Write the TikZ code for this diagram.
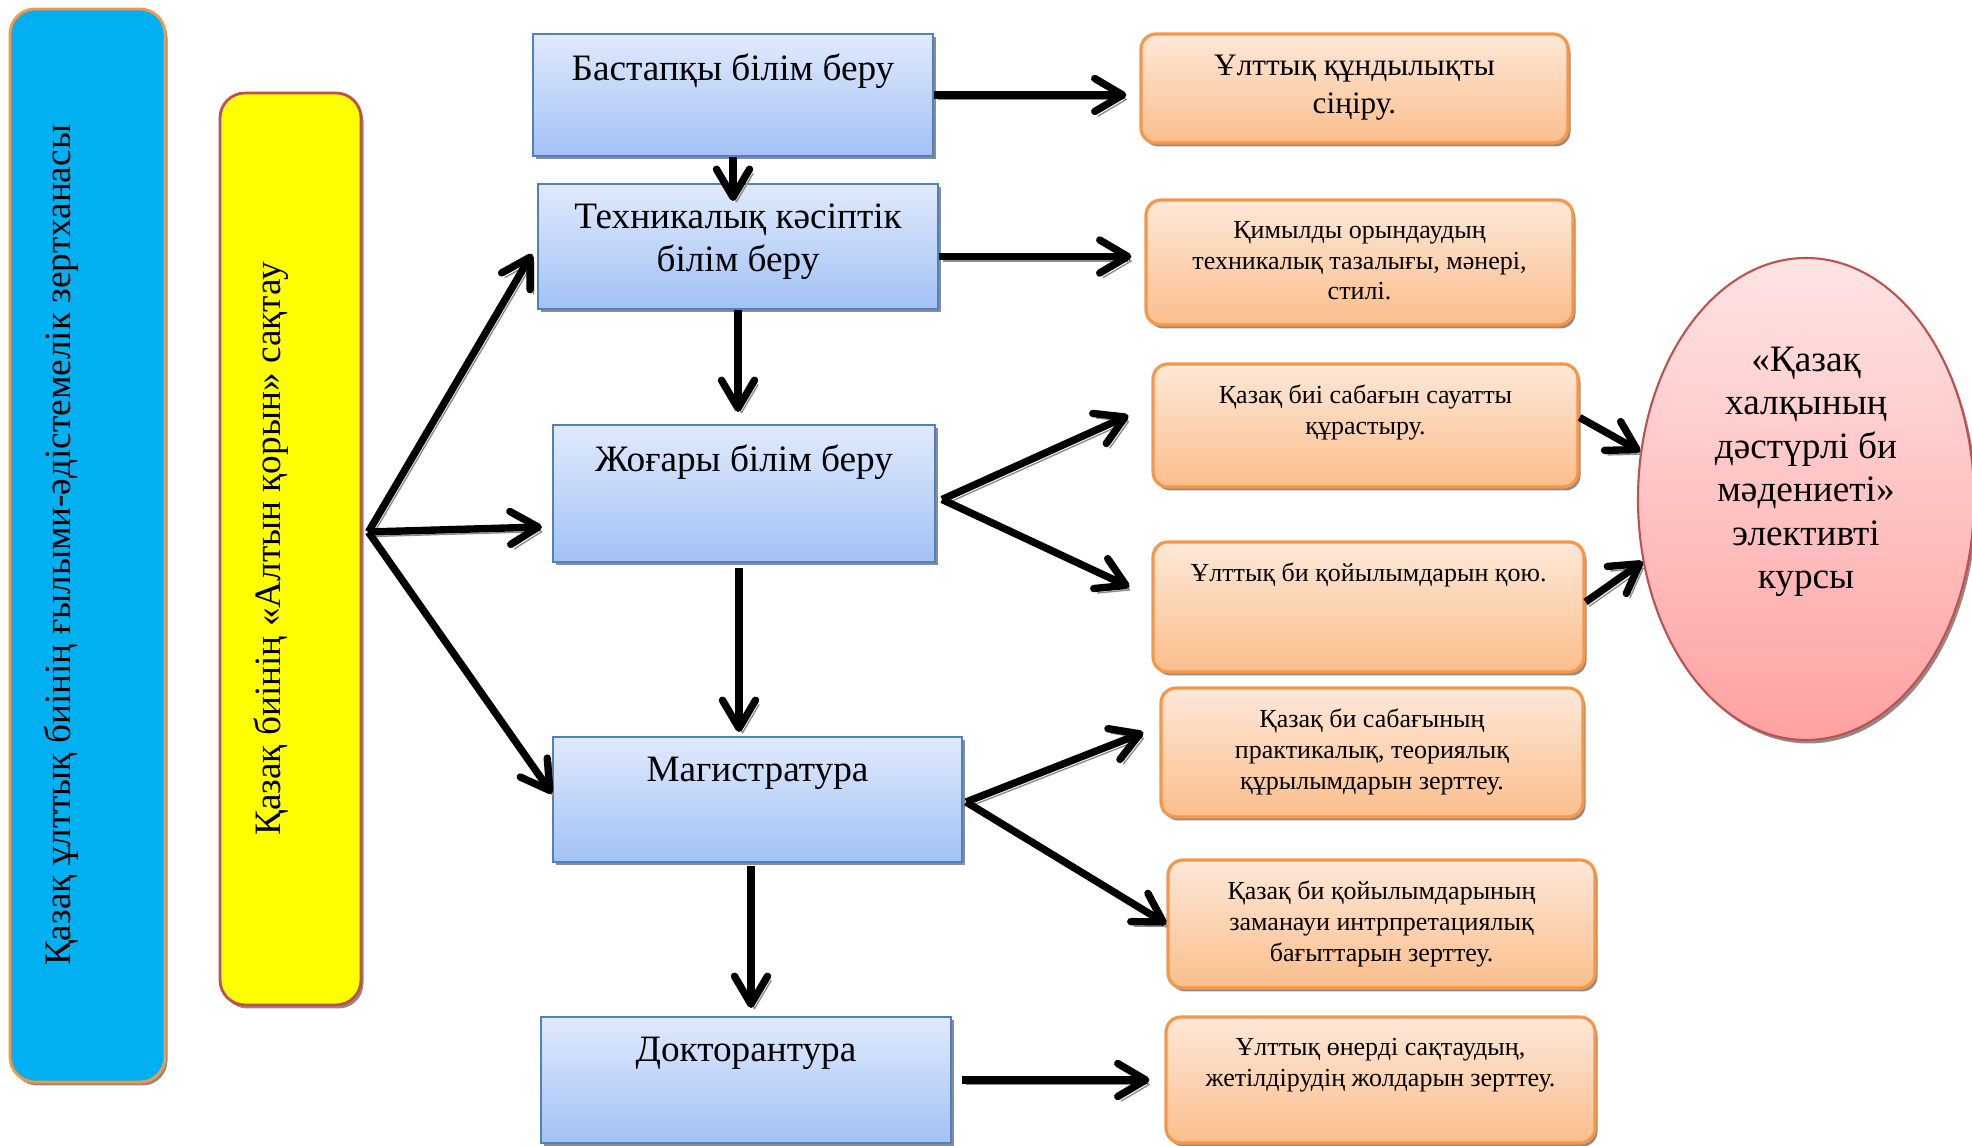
\documentclass[tikz,border=0pt]{standalone}
\usepackage{fontspec}
\setmainfont{Liberation Serif}
\usetikzlibrary{arrows.meta,shadows,shapes.geometric}

\definecolor{bordeazul}{RGB}{79,129,189}
\definecolor{azularriba}{RGB}{224,234,253}
\definecolor{azulabajo}{RGB}{163,193,245}
\definecolor{bordenaranja}{RGB}{247,150,70}
\definecolor{naranjaarriba}{RGB}{253,232,216}
\definecolor{naranjaabajo}{RGB}{251,190,140}
\definecolor{rosaarriba}{RGB}{255,228,228}
\definecolor{rosaabajo}{RGB}{255,162,162}
\definecolor{bordeojo}{RGB}{192,80,77}
\definecolor{celeste}{RGB}{0,176,240}
\definecolor{amarillo}{RGB}{255,255,0}

\tikzset{
  caja/.style 2 args={minimum width=#1, minimum height=#2, inner sep=0pt},
  sombra/.style={drop shadow={shadow xshift=0.25mm, shadow yshift=-0.35mm, opacity=0.45, fill=black}},
  azul/.style={draw=bordeazul, line width=0.6pt, top color=azularriba, bottom color=azulabajo, sombra},
  naranja/.style={rounded corners=1.5mm, draw=bordenaranja, line width=0.9pt, top color=naranjaarriba, bottom color=naranjaabajo, sombra},
  txtazul/.style={anchor=north, yshift=-2mm, inner sep=0pt, align=center, font=\fontsize{10.6}{12.4}\selectfont},
  txtnar/.style={anchor=north, yshift=-2.2mm, inner sep=0pt, align=center, font=\fontsize{7.4}{8.8}\selectfont},
  txtlado/.style={xshift=3.5mm, rotate=90, anchor=north, inner sep=0pt, font=\fontsize{10.6}{12.4}\selectfont},
  flecha/.style={line width=2.1pt, -{Straight Barb[length=2.8mm,width=3.3mm,round]},
    preaction={draw=black!45, transform canvas={shift={(0.35mm,-0.45mm)}}}}
}

\begin{document}
\begin{tikzpicture}[x=0.1mm, y=-0.1mm]
\useasboundingbox (0,0) rectangle (1972,1146);

% Columnas laterales
\node[caja={15.5mm}{107.3mm}, rounded corners=2.5mm, draw=bordenaranja, line width=0.8pt, fill=celeste, sombra,
  label={[txtlado]west:Қазақ ұлттық биінің ғылыми-әдістемелік зертханасы}] (lab) at (87.5,545.5) {};
\node[caja={14.1mm}{91.2mm}, rounded corners=2.5mm, draw=bordeojo, line width=0.8pt, fill=amarillo, sombra,
  label={[txtlado]west:Қазақ биінің «Алтын қорын» сақтау}] (altyn) at (290.5,549) {};

% Cajas azules
\node[azul, caja={40mm}{12.2mm}, label={[txtazul]north:Бастапқы білім беру}] (B1) at (733,95) {};
\node[azul, caja={40mm}{12.5mm}, label={[txtazul]north:Техникалық кәсіптік\\білім беру}] (B2) at (738,246.5) {};
\node[azul, caja={38.2mm}{13.7mm}, label={[txtazul]north:Жоғары білім беру}] (B3) at (744,493.5) {};
\node[azul, caja={40.9mm}{12.5mm}, label={[txtazul]north:Магистратура}] (B4) at (757.5,799.5) {};
\node[azul, caja={41mm}{12.6mm}, label={[txtazul]north:Докторантура}] (B5) at (746,1080) {};

% Cajas naranjas
\node[naranja, caja={42.7mm}{10.9mm}, label={[txtnar, yshift=0.05mm, font=\fontsize{8.9}{10.8}\selectfont]north:Ұлттық құндылықты\\сіңіру.}] (N1) at (1354.5,88.5) {};
\node[naranja, caja={42.7mm}{12.5mm}, label={[txtnar]north:Қимылды орындаудың\\техникалық тазалығы, мәнері,\\стилі.}] (N2) at (1359.5,262.5) {};
\node[naranja, caja={42.5mm}{12.3mm}, label={[txtnar]north:Қазақ биі сабағын сауатты\\құрастыру.}] (N3) at (1365.5,425.5) {};
\node[naranja, caja={43.1mm}{13mm}, label={[txtnar]north:Ұлттық би қойылымдарын қою.}] (N4) at (1368.5,607) {};
\node[naranja, caja={42.2mm}{12.9mm}, label={[txtnar]north:Қазақ би сабағының\\практикалық, теориялық\\құрылымдарын зерттеу.}] (N5) at (1372,752.5) {};
\node[naranja, caja={42.7mm}{12.8mm}, label={[txtnar]north:Қазақ би қойылымдарының\\заманауи интрпретациялық\\бағыттарын зерттеу.}] (N6) at (1381.5,924) {};
\node[naranja, caja={42.9mm}{12.6mm}, label={[txtnar]north:Ұлттық өнерді сақтаудың,\\жетілдірудің жолдарын зерттеу.}] (N7) at (1380.5,1080) {};

% Elipse
\node[ellipse, caja={33.6mm}{48.2mm}, draw=bordeojo, line width=0.6pt, top color=rosaarriba, bottom color=rosaabajo, sombra,
  label={[txtazul, yshift=-6.9mm]north:«Қазақ\\халқының\\дәстүрлі би\\мәдениеті»\\элективті\\курсы}] (kurs) at (1806,499) {};

% Flechas
\draw[flecha, shorten >=1.3mm] (B1.east) -- (B1.east -| N1.west);
\draw[flecha] (B1.south) -- ([yshift=-1.8mm]B1.south |- B2.north);
\draw[flecha, shorten >=1.3mm] ([yshift=-1mm]B2.east) -- ([yshift=-1mm]B2.east -| N2.west);
\draw[flecha, shorten >=1.2mm] (B2.south) -- (B2.south |- B3.north);
\draw[flecha] ([xshift=0.6mm,yshift=-0.6mm]B3.east) -- ([xshift=-2.3mm,yshift=1mm]N3.west);
\draw[flecha] ([xshift=0.6mm,yshift=-0.6mm]B3.east) -- ([xshift=-2.2mm,yshift=2mm]N4.west);
\draw[flecha, shorten <=0.5mm, shorten >=0.4mm] ([xshift=-0.5mm]B3.south) -- ([xshift=-0.5mm]B3.south |- B4.north);
\draw[flecha] ([xshift=0.3mm,yshift=-0.25mm]B4.east) -- ([xshift=-1.6mm,yshift=2mm]N5.west);
\draw[flecha] ([xshift=0.3mm,yshift=-0.25mm]B4.east) -- (N6.west);
\draw[flecha, shorten <=0.3mm, shorten >=0.8mm] ([xshift=-0.65mm]B4.south) -- ([xshift=-0.65mm]B4.south |- B5.north);
\draw[flecha, shorten <=1mm, shorten >=1.5mm] (B5.east) -- (B5.east -| N7.west);
\coordinate (Y0) at ([xshift=0.6mm,yshift=1.7mm]altyn.east);
\draw[flecha] (Y0) -- ([xshift=-0.5mm,yshift=-0.75mm]B2.west);
\draw[flecha] (Y0) -- ([xshift=-1mm,yshift=-3.35mm]B3.west);
\draw[flecha] (Y0) -- ([yshift=0.6mm]B4.west);
\draw[flecha] ([yshift=0.8mm]N3.east) -- (kurs.164);
\draw[flecha] ([yshift=0.5mm]N4.east) -- (kurs.201);
\end{tikzpicture}
\end{document}
